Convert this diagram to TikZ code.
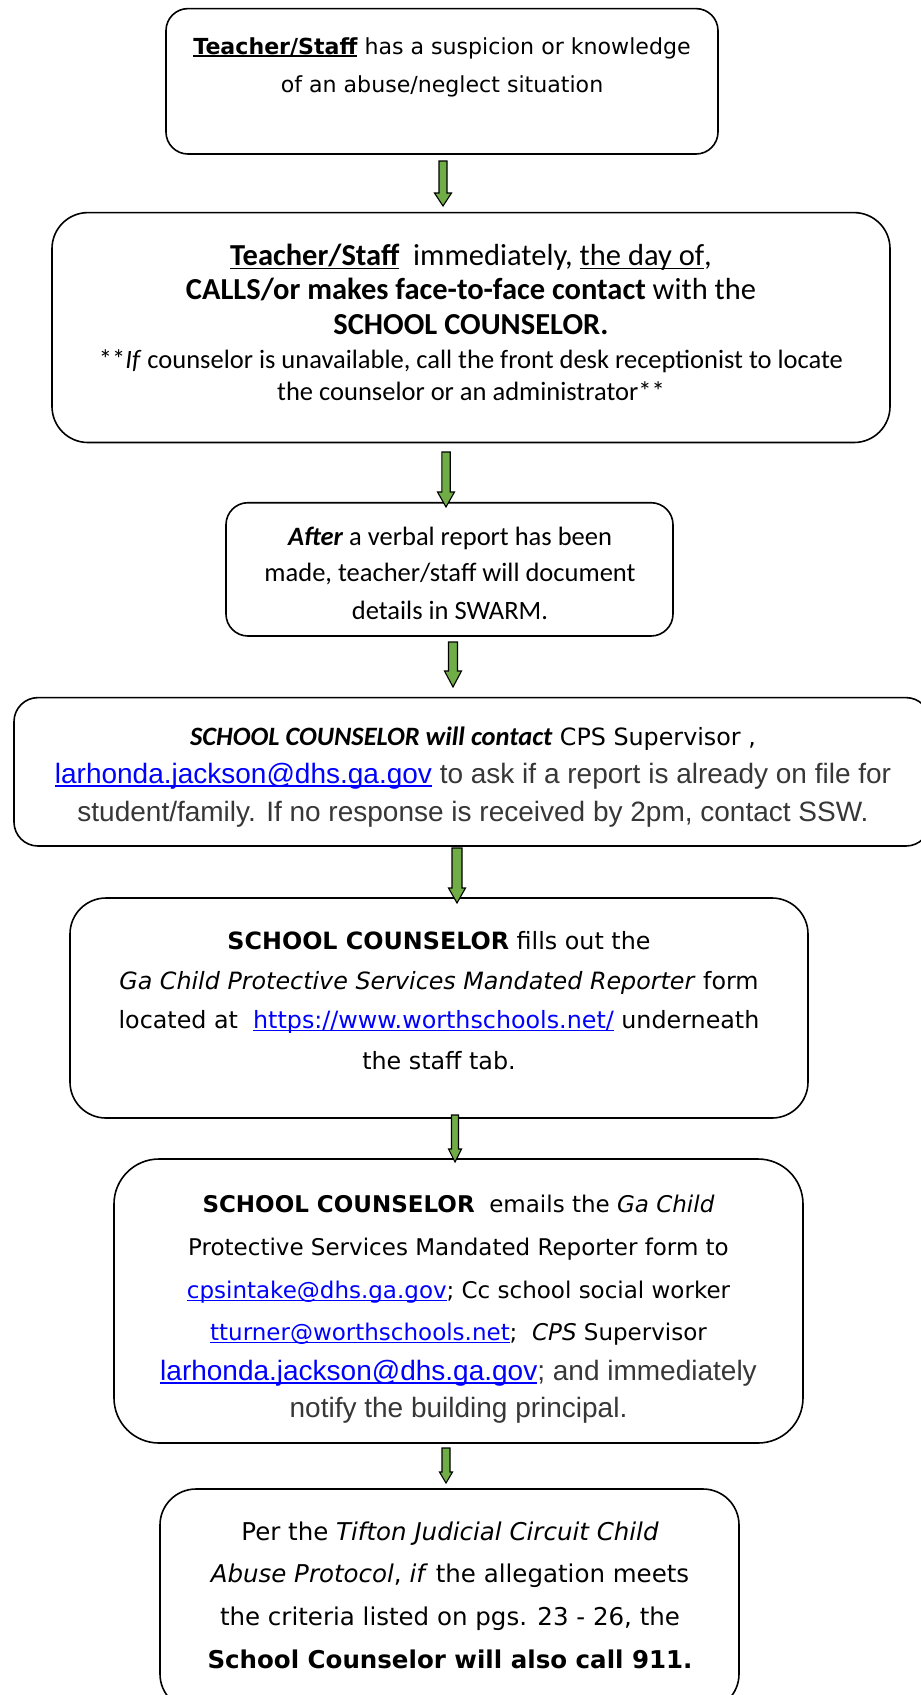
\documentclass[tikz,border=0pt]{standalone}
\usepackage{fontspec}
\usetikzlibrary{calc}
\newfontfamily\comic{DejaVu Sans}
\newfontfamily\calib{Carlito}
\newfontfamily\arialf{Liberation Sans}
\definecolor{linkblue}{RGB}{0,0,255}
\definecolor{arrgreen}{RGB}{112,173,71}
\definecolor{txtgray}{RGB}{55,55,55}
\newcommand\myul[1]{\setbox0\hbox{#1}\rlap{\rule[-0.13em]{\wd0}{1.4pt}}\box0}
\newcommand\lnk[1]{{\color{linkblue}\myul{#1}}}
\newcommand\fA{\comic\fontsize{22.1pt}{27pt}\selectfont}
\newcommand\fB{\calib\fontsize{26.5pt}{32pt}\selectfont}
\newcommand\fBB{\calib\fontsize{30.5pt}{36pt}\selectfont}
\newcommand\fC{\arialf\fontsize{28pt}{33pt}\selectfont\color{txtgray}}
\newcommand\fD{\comic\fontsize{23.8pt}{29pt}\selectfont}
\newcommand\fE{\comic\fontsize{23pt}{28pt}\selectfont}
\newcommand\fF{\comic\fontsize{24.5pt}{29pt}\selectfont}
\newcommand\blockarrow[5]{%
  \draw[blk] let \p1=(#1), \p2=(#2) in
    ({\x1-#3pt},\y1) -- ({\x1+#3pt},\y1) -- ({\x1+#3pt},{\y2+#5pt}) --
    ({\x1+#4pt},{\y2+#5pt}) -- (\x1,\y2) -- ({\x1-#4pt},{\y2+#5pt}) --
    ({\x1-#3pt},{\y2+#5pt}) -- cycle;}
\tikzset{
  box/.style={draw=black, line width=1.6pt, rounded corners=#1, inner sep=0pt, outer sep=0pt},
  ln/.style={anchor=base, inner sep=0pt, outer sep=0pt},
  blk/.style={draw=black, line width=1.1pt, fill=arrgreen, line join=miter},
}
\begin{document}
\begin{tikzpicture}[x=1pt,y=-1pt]
\useasboundingbox (0,0) rectangle (921,1695);
\clip (0,0) rectangle (921,1695);
\fill[white] (0,0) rectangle (921,1695);
% boxes
\node[box=22, minimum width=552pt, minimum height=145.4pt] (b1) at (442,81.3) {};
\node[box=36, minimum width=838pt, minimum height=229.9pt] (b2) at (471,327.55) {};
\node[box=22, minimum width=447pt, minimum height=133.3pt] (b3) at (449.5,569.35) {};
\node[box=24, minimum width=916pt, minimum height=148.4pt] (b4) at (472,771.8) {};
\node[box=36, minimum width=738pt, minimum height=220pt] (b5) at (439,1008) {};
\node[box=45, minimum width=689pt, minimum height=284pt] (b6) at (458.5,1301) {};
\node[box=36, minimum width=579pt, minimum height=221pt] (b7) at (449.5,1599.5) {};
% box 1
\node[ln, font=\fA] (t11) at (442,54) {{\bfseries\myul{Teacher/Staff}} has a suspicion or knowledge};
\node[ln, font=\fA] (t12) at (442,92) {of an abuse/neglect situation};
% box 2
\node[ln, font=\fBB] (t21) at (471,265) {{\bfseries\myul{Teacher/Staff}}\ \ immediately, \myul{the day of},};
\node[ln, font=\fBB] (t22) at (471,299) {\textbf{CALLS/or makes face-to-face contact} with the};
\node[ln, font=\fBB] (t23) at (471,334) {\textbf{SCHOOL COUNSELOR.}};
\node[ln, font=\fB] (t24) at (471,368) {**\textit{If} counselor is unavailable, call the front desk receptionist to locate};
\node[ln, font=\fB] (t25) at (471,400) {the counselor or an administrator**};
% box 3
\node[ln, font=\fB] (t31) at (450,545) {\textbf{\textit{After}} a verbal report has been};
\node[ln, font=\fB] (t32) at (450,581) {made, teacher/staff will document};
\node[ln, font=\fB] (t33) at (450,619) {details in SWARM.};
% box 4
\node[ln, font=\fD] (t41) at (473,745) {{\fB\bfseries\itshape SCHOOL COUNSELOR will contact} CPS Supervisor ,};
\node[ln, font=\fC] (t42) at (473,783) {\lnk{larhonda.jackson@dhs.ga.gov} to ask if a report is already on file for};
\node[ln, font=\fC] (t43) at (473,821) {student/family. If no response is received by 2pm, contact SSW.};
% box 5
\node[ln, font=\fD] (t51) at (439,949) {\textbf{SCHOOL COUNSELOR} fills out the};
\node[ln, font=\fD] (t52) at (439,989.5) {\textit{Ga Child Protective Services Mandated Reporter} form};
\node[ln, font=\fD] (t53) at (439,1028) {located at\ \ \lnk{https://www.worthschools.net/} underneath};
\node[ln, font=\fD] (t54) at (439,1069) {the staff tab.};
% box 6
\node[ln, font=\fE] (t61) at (458.5,1212) {\textbf{SCHOOL COUNSELOR}\ \ emails the \textit{Ga Child}};
\node[ln, font=\fE] (t62) at (458.5,1255) {Protective Services Mandated Reporter form to};
\node[ln, font=\fE] (t63) at (458.5,1298) {\lnk{cpsintake@dhs.ga.gov}; Cc school social worker};
\node[ln, font=\fE] (t64) at (458.5,1340) {\lnk{tturner@worthschools.net};\ \ \textit{CPS} Supervisor};
\node[ln, font=\fC] (t65) at (458.5,1380) {\lnk{larhonda.jackson@dhs.ga.gov}; and immediately};
\node[ln, font=\fC] (t66) at (458.5,1417) {notify the building principal.};
% box 7
\node[ln, font=\fF] (t71) at (450,1540) {Per the \textit{Tifton Judicial Circuit Child}};
\node[ln, font=\fF] (t72) at (450,1582) {\textit{Abuse Protocol}, \textit{if} the allegation meets};
\node[ln, font=\fF] (t73) at (450,1625.5) {the criteria listed on pgs. 23 - 26, the};
\node[ln, font=\fF] (t74) at (450,1668) {\textbf{School Counselor will also call 911.}};
% arrows
\coordinate (a1s) at (443,161);  \coordinate (a1e) at (443,206);
\coordinate (a2s) at (446,452);  \coordinate (a2e) at (446,507);
\coordinate (a3s) at (453,642);  \coordinate (a3e) at (453,687);
\coordinate (a4s) at (457,848);  \coordinate (a4e) at (457,903);
\coordinate (a5s) at (455,1115); \coordinate (a5e) at (455,1162);
\coordinate (a6s) at (446,1448); \coordinate (a6e) at (446,1483);
\blockarrow{a1s}{a1e}{4}{8.5}{13}
\blockarrow{a2s}{a2e}{4.2}{8.5}{15}
\blockarrow{a3s}{a3e}{4.5}{8.5}{16}
\blockarrow{a4s}{a4e}{5}{8.5}{15}
\blockarrow{a5s}{a5e}{3.5}{6.5}{13}
\blockarrow{a6s}{a6e}{4}{6.5}{11}
\end{tikzpicture}
\end{document}
